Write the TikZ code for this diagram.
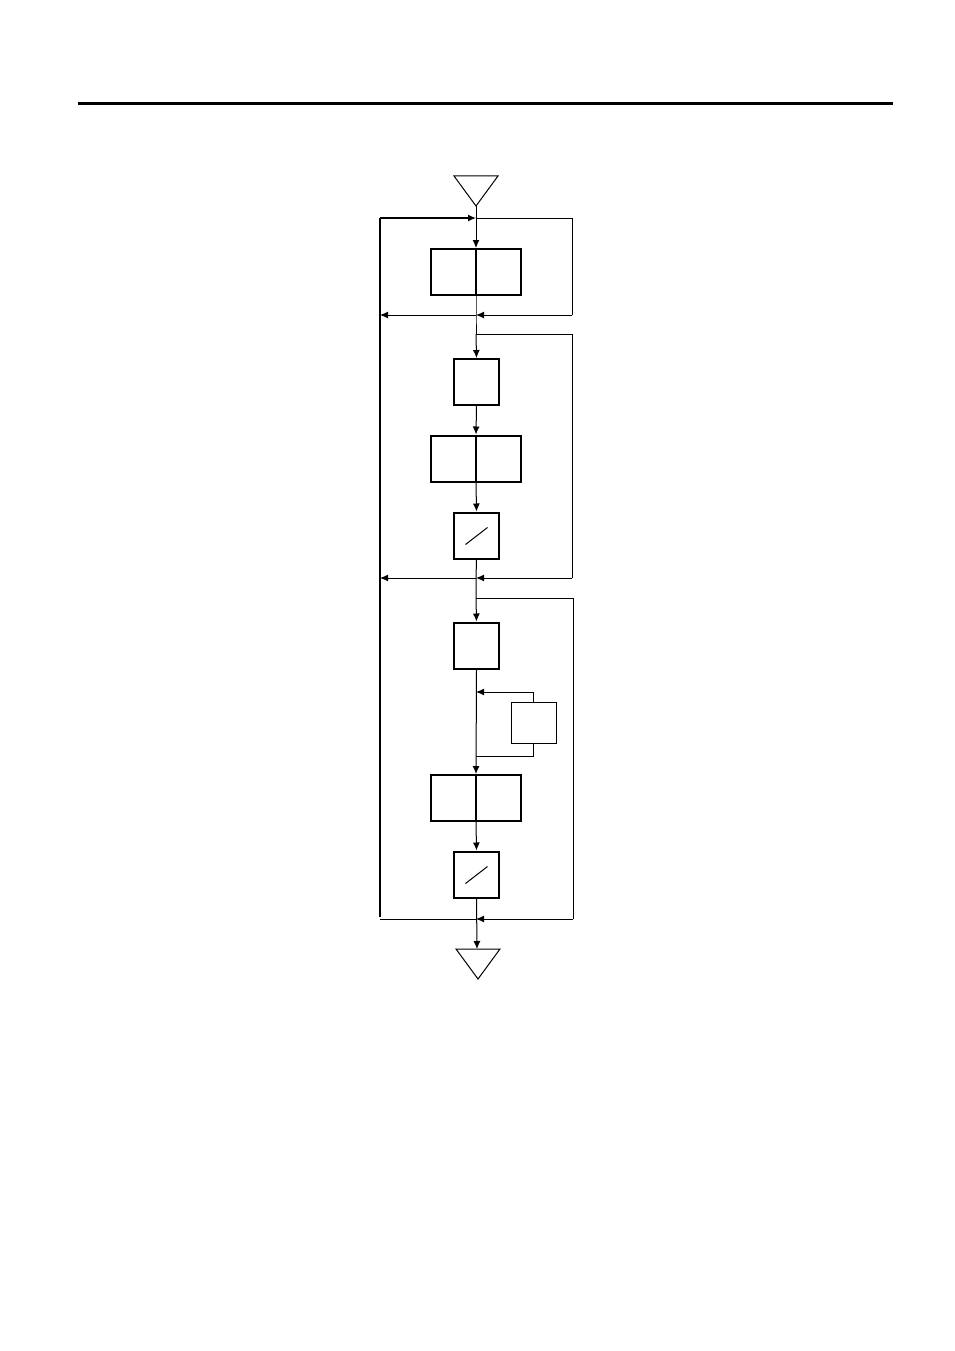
\documentclass[tikz,border=0pt]{standalone}
\usetikzlibrary{arrows.meta,calc}
\begin{document}
\begin{tikzpicture}[x=1pt,y=-1pt,
  bx/.style={draw,line width=2pt,minimum width=45pt,minimum height=46pt,inner sep=0pt},
  sbx/.style={draw,line width=2pt,minimum width=90pt,minimum height=46pt,inner sep=0pt},
  tbx/.style={draw,line width=1pt,minimum width=45pt,minimum height=41pt,inner sep=0pt},
  ln/.style={line width=1pt},
  ar/.style={line width=1pt,-{Latex[length=8pt,width=7pt]}}]
\useasboundingbox (0,0) rectangle (954,1351);
\draw[line width=3pt] (78,104) -- (893,104);
% triangles
\draw[line width=1pt] (454,176) -- (498,176) -- (476,206) -- cycle;
\coordinate (tt) at (476,206);
\draw[line width=1pt] (456,949) -- (500,949) -- (478,979) -- cycle;
\coordinate (tb) at (477,949);
% boxes
\node[sbx] (b1) at (476,272) {};
\draw[line width=2pt] (b1.north) -- (b1.south);
\node[bx] (b2) at (476.5,382) {};
\node[sbx] (b3) at (476,458.5) {};
\draw[line width=2pt] (b3.north) -- (b3.south);
\node[bx] (b4) at (476.5,535.5) {};
\draw[line width=1pt] ($(b4.center)+(-11,9)$) -- ($(b4.center)+(11,-8)$);
\node[bx] (b5) at (476.5,645.5) {};
\node[tbx] (b8) at (533.5,722.5) {};
\node[sbx] (b6) at (476,798) {};
\draw[line width=2pt] (b6.north) -- (b6.south);
\node[bx] (b7) at (476.5,874.5) {};
\draw[line width=1pt] ($(b7.center)+(-11,9)$) -- ($(b7.center)+(11,-8)$);
% coordinates
\coordinate (j1) at (476,218);
\coordinate (j2) at (476,315);
\coordinate (j3) at (476,334);
\coordinate (j4) at (476,578);
\coordinate (j5) at (476,598);
\coordinate (j6) at (476,919);
\coordinate (L1) at (380,218);
\coordinate (L2) at (380,315);
\coordinate (L3) at (380,578);
\coordinate (L4) at (380,917);
\coordinate (i1) at (476,692);
\coordinate (i2) at (476,756);
% main spine
\draw[ln] (tt) -- (j1);
\draw[ar] (j1) -- (b1.north);
\draw[ln] (b1.south) -- (j2) -- (j3);
\draw[ar] (j3) -- (b2.north);
\draw[ar] (b2.south) -- (b3.north);
\draw[ar] (b3.south) -- (b4.north);
\draw[ln] (b4.south) -- (j4) -- (j5);
\draw[ar] (j5) -- (b5.north);
\draw[ar] (b5.south) -- (b6.north);
\draw[ar] (b6.south) -- (b7.north);
\draw[ar] (b7.south) -- (tb);
% left bypass
\draw[line width=1.3pt] (L4) -- (L1);
\draw[ar,line width=1.3pt] (L1) -- (j1);
% loop 1
\draw[ln] (j1) -- (572,218) -- (572,315);
\draw[ar] (572,315) -- (j2);
\draw[ar] (j2) -- (L2);
% loop 2
\draw[ln] (j3) -- (572,334) -- (572,578);
\draw[ar] (572,578) -- (j4);
\draw[ar] (j4) -- (L3);
% loop 3
\draw[ln] (j5) -- (573,598) -- (573,919);
\draw[ar] (573,919) -- (j6);
\draw[ln] (j6) -- (380,919);
% inner loop
\draw[ar] (b8.north) |- (i1);
\draw[ln] (b8.south) |- (i2);
\end{tikzpicture}
\end{document}
